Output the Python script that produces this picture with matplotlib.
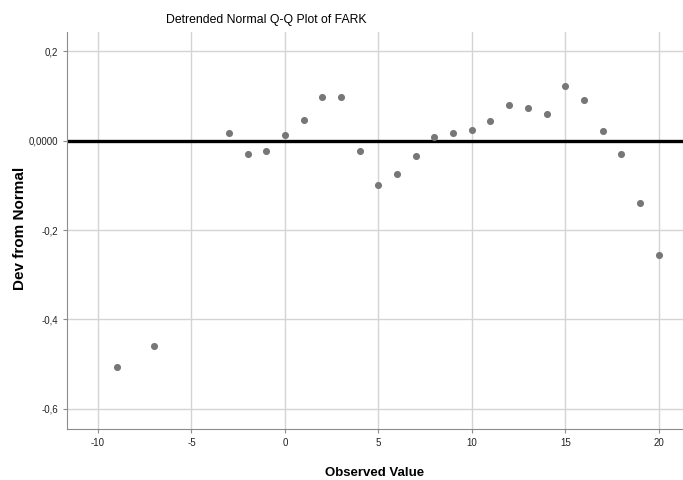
import matplotlib.pyplot as plt
from matplotlib.ticker import FuncFormatter

plt.rcParams["font.family"] = ["Liberation Sans", "DejaVu Sans"]
plt.rcParams["axes.unicode_minus"] = False

observed = [-9, -7, -3, -2, -1, 0, 1, 2, 3, 4, 5, 6, 7, 8, 9, 10,
            11, 12, 13, 14, 15, 16, 17, 18, 19, 20]
dev = [-0.507, -0.460, 0.017, -0.030, -0.024, 0.012, 0.046, 0.097, 0.097,
       -0.023, -0.100, -0.075, -0.035, 0.008, 0.018, 0.024,
       0.044, 0.079, 0.074, 0.060, 0.123, 0.090, 0.021, -0.031, -0.139, -0.256]

x_ticks = [-10, -5, 0, 5, 10, 15, 20]
y_ticks = [0.2, 0.0, -0.2, -0.4, -0.6]
y_labels = {0.2: "0,2", 0.0: "0,0000", -0.2: "-0,2", -0.4: "-0,4", -0.6: "-0,6"}

fig = plt.figure(figsize=(6.83, 4.8), dpi=100)
ax = fig.add_axes([67 / 683, 1 - 429 / 480, 1 - 67 / 683, (429 - 32) / 480])

ax.set_xlim(-11.66, 21.3)
ax.set_ylim(-0.645, 0.243)
ax.set_xticks(x_ticks)
ax.set_yticks(y_ticks)
ax.yaxis.set_major_formatter(FuncFormatter(lambda v, p: y_labels.get(round(v, 1), "")))

ax.grid(True, color="#d4d4d4", linewidth=1)
ax.set_axisbelow(True)
ax.axhline(0, color="black", linewidth=2.4, zorder=2)
ax.scatter(observed, dev, s=26, color="#777777", zorder=3, linewidths=0)

for s in ["top", "right"]:
    ax.spines[s].set_visible(False)
for s in ["left", "bottom"]:
    ax.spines[s].set_color("#8c8c8c")
ax.tick_params(labelsize=7, length=3, color="#8c8c8c", colors="#222222")

ax.set_xlabel("Observed Value", fontsize=9.5, fontweight="bold", labelpad=14)
fig.text(20 / 683, 1 - 228 / 480, "Dev from Normal", rotation=90,
         ha="center", va="center", fontsize=11, fontweight="bold")
fig.text(266 / 683, 1 - 20 / 480, "Detrended Normal Q-Q Plot of FARK",
         ha="center", va="center", fontsize=8.8,
         family=["Liberation Sans Narrow", "Liberation Sans", "DejaVu Sans"])

fig.savefig("out.png", dpi=100)
